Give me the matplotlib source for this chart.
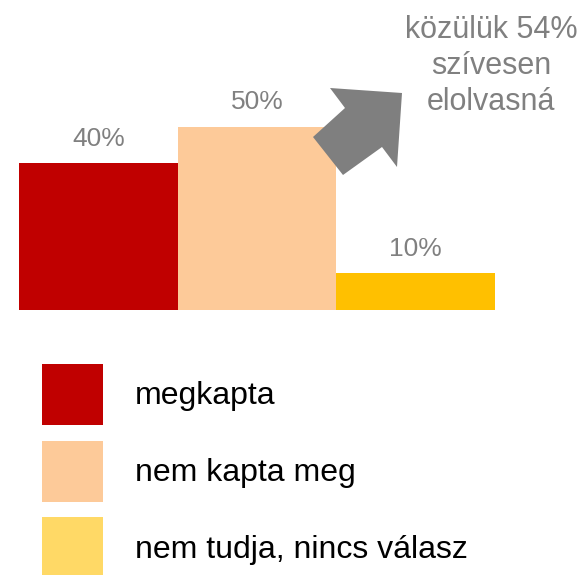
import matplotlib.pyplot as plt
from matplotlib.patches import Patch, Polygon

plt.rcParams['font.family'] = ['Liberation Sans', 'DejaVu Sans']

# adatok
categories = ['megkapta', 'nem kapta meg', 'nem tudja, nincs válasz']
values = [40, 50, 10]
bar_colors = ['#C00000', '#FDCA99', '#FFC000']
legend_colors = ['#C00000', '#FDCA99', '#FFD966']
note = 'közülük 54%\nszívesen\nelolvasná'

W, H = 586, 575
fig = plt.figure(figsize=(W / 100, H / 100), dpi=100)

# oszlopok
ax = fig.add_axes([19 / W, 1 - 310 / H, (495 - 19) / W, 220 / H])
x = range(len(values))
bars = ax.bar(x, values, width=1.0, color=bar_colors)
ax.set_xlim(-0.5, len(values) - 0.5)
ax.set_ylim(0, 60)
ax.axis('off')

for b, v in zip(bars, values):
    ax.annotate(f'{v}%', (b.get_x() + b.get_width() / 2, v),
                xytext=(0, 9), textcoords='offset points',
                ha='center', va='bottom', fontsize=19, color='#808080')

# szürke nyíl (alakzat, pixelben)
arrow_shape = [(313, 137), (343, 175), (382, 147), (397, 167),
               (402, 93), (330, 88), (345, 108)]
fig.patches.append(Polygon([(px / W, 1 - py / H) for px, py in arrow_shape],
                           closed=True, facecolor='#7F7F7F', edgecolor='none',
                           transform=fig.transFigure))

fig.text(491 / W, 1 - 66 / H, note, ha='center', va='center',
         multialignment='center', fontsize=22, color='#808080',
         linespacing=1.27)

# jelmagyarázat
handles = [Patch(facecolor=c, edgecolor='none') for c in legend_colors]
fig.legend(handles, categories, loc='upper left',
           bbox_to_anchor=(42 / W, 1 - 364 / H), borderaxespad=0,
           borderpad=0, frameon=False, fontsize=23,
           handlelength=1.9, handleheight=2.55, labelspacing=0.5,
           handletextpad=1.0)

fig.savefig('out.png', dpi=100)
